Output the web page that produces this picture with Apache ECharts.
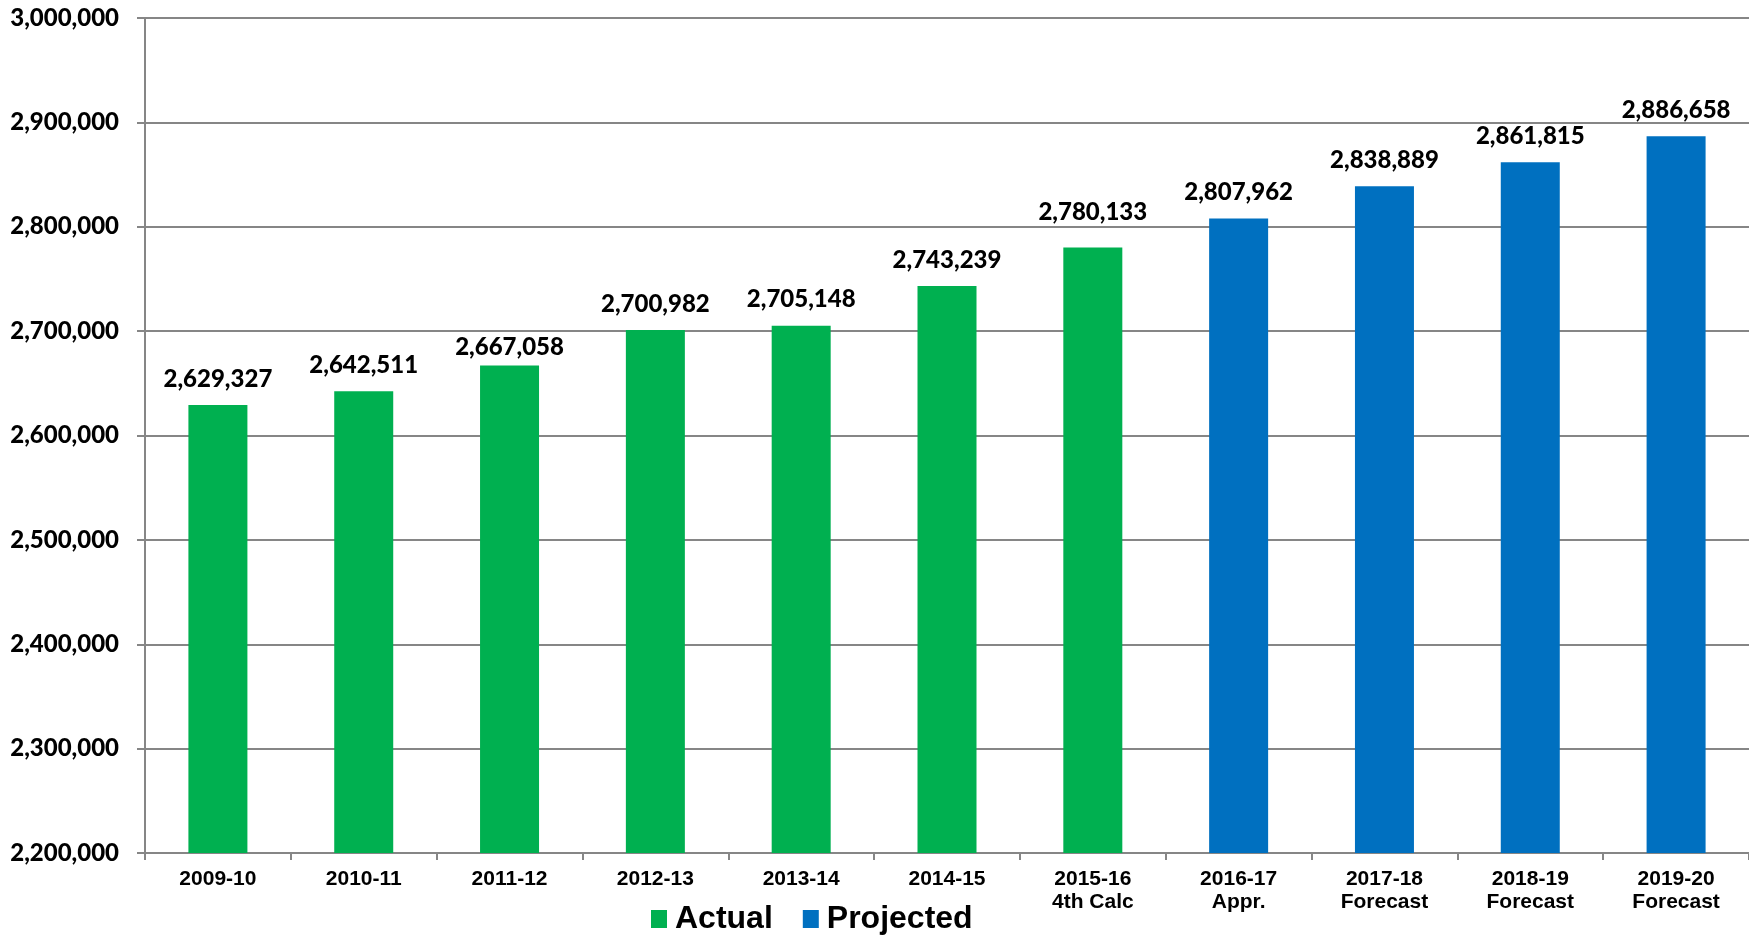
<!DOCTYPE html>
<html><head><meta charset="utf-8">
<script src="https://cdn.jsdelivr.net/npm/echarts@6/dist/echarts.min.js"></script>
<style>html,body{margin:0;padding:0;background:#fff}#c{width:1749px;height:936px}</style>
</head><body><div id="c"></div>
<script>
const categories = ['2009-10','2010-11','2011-12','2012-13','2013-14','2014-15','2015-16\n4th Calc','2016-17\nAppr.','2017-18\nForecast','2018-19\nForecast','2019-20\nForecast'];
const actualValues = [2629327,2642511,2667058,2700982,2705148,2743239,2780133];
const projectedValues = [2807962,2838889,2861815,2886658];
const yTicks = {min:2200000, max:3000000, interval:100000};
// manual label nudges (pixels) seen in the reference
const labelOffsets = {2:8, 6:-9};

const nA = actualValues.length;
const mk = (v,i) => labelOffsets[i] ? {value:v, label:{offset:[0,labelOffsets[i]]}} : v;
const actualData = categories.map((c,i)=> i < nA ? mk(actualValues[i],i) : '-');
const projData = categories.map((c,i)=> i >= nA ? mk(projectedValues[i-nA],i) : '-');
const fmt = v => Number(v).toLocaleString('en-US');
const labelStyle = {show:true, position:'top', distance:14, fontFamily:'Lato', fontWeight:900, fontSize:24, color:'#000', formatter:p=>fmt(p.value)};

const chart = echarts.init(document.getElementById('c'));
chart.setOption({
  animation:false,
  grid:{left:145, right:0, top:18, bottom:83, containLabel:false},
  legend:{left:646, top:898, itemWidth:16, itemHeight:18, itemGap:30,
    icon:'rect',
    textStyle:{fontFamily:'Liberation Sans', fontWeight:'bold', fontSize:32, color:'#000', padding:[0,0,0,3]},
    data:['Actual','Projected']},
  xAxis:{type:'category', data:categories,
    axisLine:{lineStyle:{color:'#868686', width:2}},
    axisTick:{show:true, length:7, lineStyle:{color:'#868686', width:2}},
    axisLabel:{interval:0, margin:15, fontFamily:'Liberation Sans', fontWeight:'bold', fontSize:21, color:'#000', lineHeight:23}},
  yAxis:{type:'value', min:yTicks.min, max:yTicks.max, interval:yTicks.interval,
    axisLine:{show:true, lineStyle:{color:'#868686', width:2}},
    axisTick:{show:true, inside:false, length:8, lineStyle:{color:'#868686', width:2}},
    splitLine:{lineStyle:{color:'#868686', width:2}},
    axisLabel:{margin:26, fontFamily:'Lato', fontWeight:900, fontSize:24, color:'#000', formatter:fmt}},
  series:[
    {name:'Actual', type:'bar', data:actualData, barWidth:59, barGap:'-100%', itemStyle:{color:'#00B050'}, label:labelStyle},
    {name:'Projected', type:'bar', data:projData, barWidth:59, barGap:'-100%', itemStyle:{color:'#0070C0'}, label:labelStyle}
  ]
});
</script></body></html>
